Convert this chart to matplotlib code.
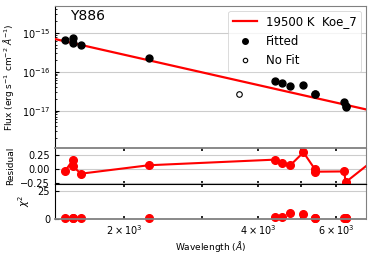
import numpy as np
import matplotlib.pyplot as plt
from matplotlib.ticker import NullFormatter

star = "Y886"
model_label = "19500 K  Koe_7"

# fitted photometry (wavelength in Angstrom, flux in erg/s/cm2/A)
wave_fit = [1476, 1535, 1535, 1602, 2274, 4368, 4536, 4729, 5061, 5375, 5375, 6254, 6300, 6300, 8000]
flux_fit = [6.5e-16, 7.2e-16, 5.6e-16, 4.9e-16, 2.3e-16, 5.7e-17, 5.0e-17, 4.3e-17, 4.6e-17,
            2.7e-17, 2.65e-17, 1.7e-17, 1.35e-17, 1.26e-17, 9e-18]
resid_fit = [-0.03, 0.16, 0.05, -0.08, 0.07, 0.17, 0.105, 0.07, 0.30, -0.005, -0.045, -0.04,
             -0.285, -0.23, 0.42]
chi2_fit = [0.3, 0.3, 0.3, 0.3, 0.3, 1.6, 1.9, 5.3, 4.6, 0.9, 0.9, 0.4, 0.4, 0.4, 2.0]

# not fitted
wave_nofit = [3630]
flux_nofit = [2.75e-17]

# model
model_wave = [1300, 1500, 2300, 4500, 6300, 8000]
model_flux = [8.4e-16, 5.78e-16, 1.91e-16, 3.36e-17, 1.41e-17, 7.6e-18]

fig = plt.figure(figsize=(3.74, 2.59), dpi=100)
left, width = 0.147, 0.832
ax1 = fig.add_axes([left, 0.427, width, 0.550])
ax2 = fig.add_axes([left, 0.290, width, 0.137], sharex=ax1)
ax3 = fig.add_axes([left, 0.156, width, 0.134], sharex=ax1)

# flux panel
ax1.plot(model_wave, model_flux, color='red', lw=1.6, label=model_label, zorder=3)
ax1.plot(wave_fit, flux_fit, 'o', color='black', ms=5, label='Fitted', zorder=4)
ax1.plot(wave_nofit, flux_nofit, 'o', mfc='white', mec='black', ms=4, mew=0.8, label='No Fit', zorder=4)
ax1.set_xscale('log')
ax1.set_yscale('log')
ax1.set_xlim(1400, 7000)
ax1.set_ylim(1.07e-18, 4.9e-15)
ax1.set_yticks([1e-17, 1e-16, 1e-15])
ax1.text(0.05, 0.93, star, transform=ax1.transAxes, fontsize=10, va='center')
ax1.set_ylabel(r'Flux (erg s$^{-1}$ cm$^{-2}$ $\AA^{-1}$)', fontsize=6.5)
leg = ax1.legend(loc='upper right', fontsize=8.5, handlelength=2.0, borderaxespad=0.4,
                 labelspacing=0.55, markerscale=0.8)
leg.get_frame().set_linewidth(0.6)
ax1.tick_params(axis='x', which='both', labelbottom=False, length=0)

# residual panel
ax2.plot(wave_fit, resid_fit, '-', color='red', lw=1.5)
ax2.plot(wave_fit, resid_fit, 'o', color='red', ms=5.5, clip_on=False)
ax2.set_ylim(-0.262, 0.37)
ax2.set_yticks([-0.25, 0.0, 0.25])
ax2.set_yticklabels(['\N{MINUS SIGN}0.25', '0.00', '0.25'])
ax2.set_ylabel('Residual', fontsize=6.5)
ax2.tick_params(axis='x', which='both', labelbottom=False)

# chi2 panel
ax3.plot(wave_fit, chi2_fit, 'o', color='red', ms=5.5, clip_on=False)
ax3.set_ylim(0, 32)
ax3.set_yticks([0, 25])
ax3.set_ylabel(r'$\chi^2$', fontsize=7)
ax3.set_xlabel(r'Wavelength ($\AA$)', fontsize=6.5, labelpad=2)

ax3.set_xticks([2000, 4000, 6000])
ax3.set_xticklabels([r'$2\times10^3$', r'$4\times10^3$', r'$6\times10^3$'])
ax3.set_xticks([3000, 5000], minor=True)
ax3.xaxis.set_minor_formatter(NullFormatter())

for ax in [ax1, ax2, ax3]:
    ax.grid(axis='y', color='0.8', lw=0.8)
    ax.set_axisbelow(True)
    ax.tick_params(axis='y', which='both', direction='in', labelsize=7)
    ax.tick_params(axis='y', which='major', length=3)
    ax.tick_params(axis='y', which='minor', length=1.5)
    ax.spines['right'].set_color('0.5')
    ax.spines['top'].set_color('0.5')
    ax.spines['bottom'].set_color('0.5')
for ax in [ax2, ax3]:
    ax.tick_params(axis='x', which='both', direction='in', top=True, bottom=True,
                   length=2, width=1.2, labelsize=7, pad=3)
ax2.spines['bottom'].set_color('black')
ax3.spines['top'].set_color('black')
ax1.spines['bottom'].set_visible(False)
ax2.spines['top'].set_linewidth(1.3)
ax3.spines['bottom'].set_linewidth(1.3)

plt.savefig('out.png', dpi=100)
